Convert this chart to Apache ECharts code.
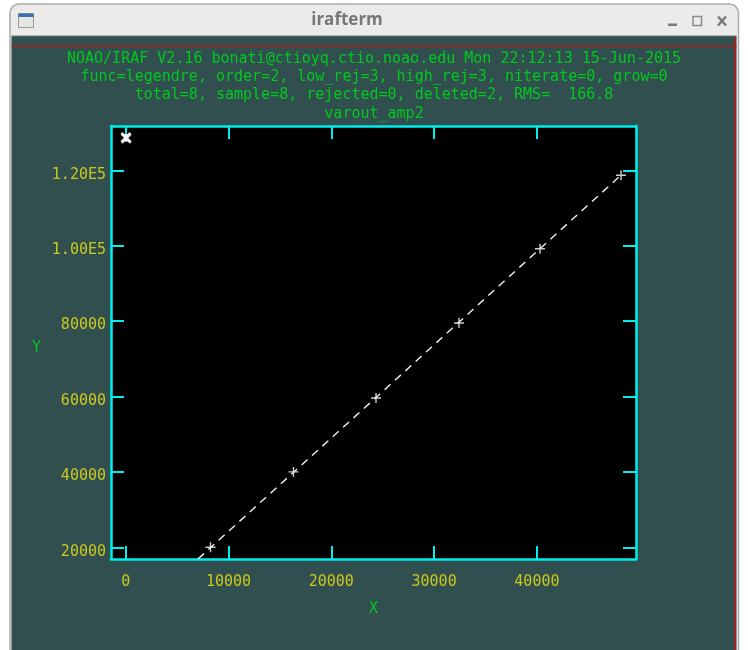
<!DOCTYPE html>
<html>
<head>
<meta charset="utf-8">
<style>html,body{margin:0;padding:0;background:#fff}#c{width:748px;height:650px}</style>
<script src="https://cdn.jsdelivr.net/npm/echarts@6/dist/echarts.min.js"></script>
</head>
<body>
<div id="c"></div>
<script>
const sampleX = [8250, 16320, 24350, 32420, 40300, 48180];
const sampleY = [20000, 40000, 59600, 79500, 99200, 118700];
const deletedX = [20, 60];
const deletedY = [128700, 128500];
const fitX = [7030, 48180];
const fitY = [16900, 118700];
const xTicks = [0, 10000, 20000, 30000, 40000];
const yTicks = [20000, 40000, 60000, 80000, 100000, 120000];
const yTickLabels = ['20000', '40000', '60000', '80000', '1.00E5', '1.20E5'];
const titleLines = [
  'NOAO/IRAF V2.16 bonati@ctioyq.ctio.noao.edu Mon 22:12:13 15-Jun-2015',
  'func=legendre, order=2, low_rej=3, high_rej=3, niterate=0, grow=0',
  'total=8, sample=8, rejected=0, deleted=2, RMS=  166.8',
  'varout_amp2'
];
const windowTitle = 'irafterm';

const mono = '"DejaVu Sans Mono","Liberation Mono",monospace';
const cyan = '#00eeee', yellow = '#c8c81e', green = '#00c81e';
const titleY = [54, 72, 90, 109];
const xr = [-1430, 49640], yr = [16900, 131750];

const axisLine = {show: true, onZero: false, lineStyle: {color: cyan, width: 2.5}};
const axisTick = (vals) => ({show: true, inside: true, length: 13, customValues: vals, lineStyle: {color: cyan, width: 2}});

const zb = -5;
const chrome = [
  {type: 'rect', z: zb, shape: {x: 10, y: 4, width: 728.5, height: 660, r: [9, 9, 0, 0]}, style: {fill: '#ecebe9', stroke: '#ababab', lineWidth: 1.5}},
  {type: 'rect', z: zb, shape: {x: 11.5, y: 36, width: 725, height: 614}, style: {fill: '#324f4f'}},
  {type: 'rect', z: zb, shape: {x: 11.5, y: 35.5, width: 725, height: 1}, style: {fill: '#6f7a7a'}},
  {type: 'rect', z: zb, shape: {x: 11.5, y: 45.5, width: 725, height: 1.5}, style: {fill: '#a51e1e'}},
  {type: 'rect', z: zb, shape: {x: 734, y: 37, width: 1.8, height: 613}, style: {fill: '#a51e1e'}},
  {type: 'rect', z: zb, shape: {x: 18.5, y: 13.5, width: 15, height: 14}, style: {fill: '#e4e6e2', stroke: '#9a9a9a', lineWidth: 1}},
  {type: 'rect', z: zb, shape: {x: 18.5, y: 13.5, width: 15, height: 3.5}, style: {fill: '#3d6fb0'}},
  {type: 'text', z: zb, style: {x: 347, y: 20, text: windowTitle, fill: '#77777a', font: 'bold 17px "Open Sans","Noto Sans",sans-serif', align: 'center', verticalAlign: 'middle'}},
  {type: 'rect', z: zb, shape: {x: 668, y: 23.5, width: 9, height: 2.5}, style: {fill: '#7a7a7a'}},
  {type: 'rect', z: zb, shape: {x: 693, y: 16.5, width: 8.5, height: 9}, style: {fill: 'none', stroke: '#8a8a8a', lineWidth: 1.5}},
  {type: 'line', z: zb, shape: {x1: 718, y1: 16.5, x2: 726, y2: 25.5}, style: {stroke: '#7a7a7a', lineWidth: 2.5}},
  {type: 'line', z: zb, shape: {x1: 726, y1: 16.5, x2: 718, y2: 25.5}, style: {stroke: '#7a7a7a', lineWidth: 2.5}}
];

const option = {
  animation: false,
  backgroundColor: '#fff',
  textStyle: {fontFamily: mono},
  title: titleLines.map((t, i) => ({
    text: t, left: 369, top: titleY[i], textAlign: 'center', textVerticalAlign: 'middle',
    textStyle: {color: green, fontFamily: mono, fontSize: 15, fontWeight: 'normal'}
  })),
  graphic: {elements: chrome},
  grid: {show: true, left: 111, right: 112, top: 126, bottom: 91, backgroundColor: '#000', borderWidth: 0},
  xAxis: [
    {type: 'value', min: xr[0], max: xr[1], position: 'bottom', name: 'X', nameLocation: 'middle', nameGap: 43,
     nameTextStyle: {color: green, fontFamily: mono, fontSize: 15},
     axisLine, axisTick: axisTick(xTicks), splitLine: {show: false},
     axisLabel: {customValues: xTicks, color: yellow, fontFamily: mono, fontSize: 15, margin: 16, formatter: v => String(v)}},
    {type: 'value', min: xr[0], max: xr[1], position: 'top', axisLine, axisTick: axisTick(xTicks),
     splitLine: {show: false}, axisLabel: {show: false}}
  ],
  yAxis: [
    {type: 'value', min: yr[0], max: yr[1], position: 'left', name: 'Y', nameLocation: 'middle', nameRotate: 0, nameGap: 70,
     nameTextStyle: {color: green, fontFamily: mono, fontSize: 15, verticalAlign: 'top', lineHeight: 15, padding: [-2, 0, 0, 0]},
     axisLine, axisTick: axisTick(yTicks), splitLine: {show: false},
     axisLabel: {customValues: yTicks, color: yellow, fontFamily: mono, fontSize: 15, margin: 5,
       verticalAlign: 'top', lineHeight: 15, padding: [-3, 0, 0, 0],
       formatter: v => yTickLabels[yTicks.indexOf(v)]}},
    {type: 'value', min: yr[0], max: yr[1], position: 'right', axisLine, axisTick: axisTick(yTicks),
     splitLine: {show: false}, axisLabel: {show: false}}
  ],
  series: [
    {type: 'line', data: fitX.map((x, i) => [x, fitY[i]]), symbol: 'none', clip: true, silent: true,
     lineStyle: {color: '#f0f0f0', width: 1.4, type: [8, 6]}},
    {type: 'scatter', data: sampleX.map((x, i) => [x, sampleY[i]]), symbol: 'path://M5 0V10M0 5H10', symbolSize: 10, silent: true,
     itemStyle: {color: 'transparent', borderColor: '#fff', borderWidth: 1.4}},
    {type: 'scatter', data: deletedX.map((x, i) => [x, deletedY[i]]), symbol: 'path://M0 0L10 10M10 0L0 10M5 1V9', symbolSize: 9, silent: true,
     itemStyle: {color: 'transparent', borderColor: '#fff', borderWidth: 2.6}}
  ]
};
echarts.init(document.getElementById('c')).setOption(option);
</script>
</body>
</html>
